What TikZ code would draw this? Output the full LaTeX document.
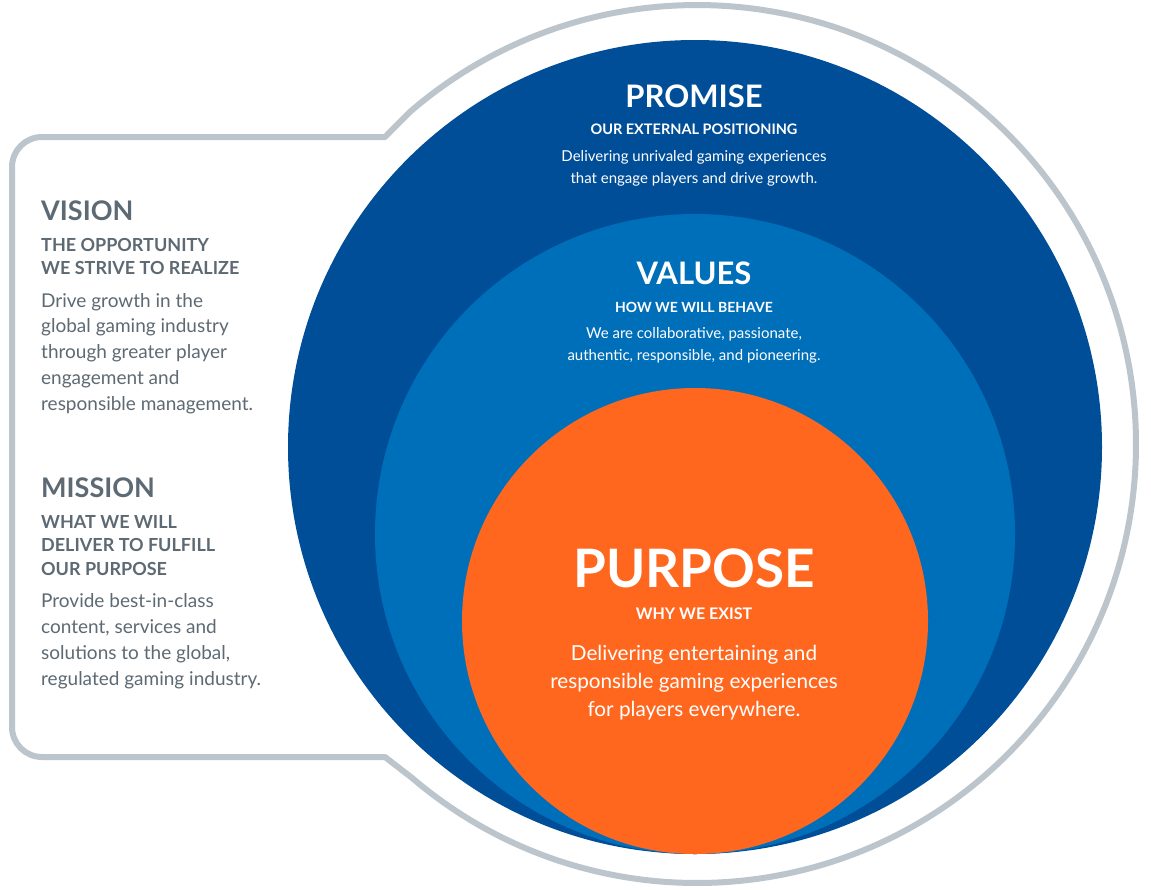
\documentclass[tikz,border=0pt]{standalone}
\usepackage{fontspec}
\setmainfont{Lato}
\usetikzlibrary{calc}
\definecolor{darkblue}{HTML}{004E98}
\definecolor{midblue}{HTML}{006FBA}
\definecolor{orangec}{HTML}{FF671F}
\definecolor{ringgray}{HTML}{BDC5CC}
\definecolor{textgray}{HTML}{5E6A73}
\tikzset{
  disc/.style={circle, inner sep=0pt, draw=none},
  ring/.style={draw=ringgray, line width=6pt, line join=round},
  lhead/.style={anchor=base west, inner sep=0pt, text=textgray, font=\bfseries\fontsize{27}{30}\selectfont},
  lsub/.style={anchor=base west, inner sep=0pt, text=textgray, font=\bfseries\fontsize{18}{20}\selectfont},
  lbody/.style={anchor=base west, inner sep=0pt, text=textgray, font=\fontsize{19}{22}\selectfont},
  chead/.style={anchor=base, inner sep=0pt, text=white, font=\bfseries\fontsize{31}{34}\selectfont},
  csub/.style={anchor=base, inner sep=0pt, text=white, font=\bfseries\fontsize{14.5}{16}\selectfont},
  cbody/.style={anchor=base, inner sep=0pt, text=white, font=\fontsize{15}{18}\selectfont},
}
\begin{document}
\begin{tikzpicture}[x=1pt, y=-1pt]
\useasboundingbox (0,0) rectangle (1151,889);
\fill[white] (0,0) rectangle (1151,889);
% gray outline
\coordinate (C) at (697,444);
\coordinate (P1) at ($(C)+(130.8:439pt)$);
\coordinate (P2) at ($(C)+(-130.5:439pt)$);
\draw[ring] (P1) -- (385,137) -- (42,137) arc[start angle=90, end angle=180, radius=30pt]
  -- (12,727) arc[start angle=180, end angle=270, radius=30pt]
  -- (385,757) -- (P2) arc[start angle=-130.5, end angle=130.8, radius=439pt] -- cycle;
% circles
\node[disc, fill=darkblue, minimum size=814pt] (promise) at (695,447) {};
\node[disc, fill=midblue, minimum size=640pt] (values) at (695,534) {};
\node[disc, fill=orangec, minimum size=466pt] (purpose) at (695,621) {};
% promise text
\node[chead] (promiseT) at (694,107) {PROMISE};
\node[csub] (promiseS) at (694,134) {OUR EXTERNAL POSITIONING};
\node[cbody] (promiseB1) at (694,161) {Delivering unrivaled gaming experiences};
\node[cbody] (promiseB2) at (694,183) {that engage players and drive growth.};
% values text
\node[chead] (valuesT) at (694,284) {VALUES};
\node[csub, font=\bfseries\fontsize{14}{16}\selectfont] (valuesS) at (694,312) {HOW WE WILL BEHAVE};
\node[cbody] (valuesB1) at (694,338) {We are collaborative, passionate,};
\node[cbody] (valuesB2) at (694,360) {authentic, responsible, and pioneering.};
% purpose text
\node[chead, font=\bfseries\fontsize{53}{56}\selectfont] (purposeT) at (694,587) {PURPOSE};
\node[csub, font=\bfseries\fontsize{16}{18}\selectfont] (purposeS) at (694,619) {WHY WE EXIST};
\node[cbody, font=\fontsize{20.7}{24}\selectfont] (purposeB1) at (694,660) {Delivering entertaining and};
\node[cbody, font=\fontsize{20.7}{24}\selectfont] (purposeB2) at (694,688) {responsible gaming experiences};
\node[cbody, font=\fontsize{20.7}{24}\selectfont] (purposeB3) at (694,716) {for players everywhere.};
% vision
\node[lhead] (visionT) at (41,220) {VISION};
\node[lsub] (visionS1) at (41,251) {THE OPPORTUNITY};
\node[lsub] (visionS2) at (41,274) {WE STRIVE TO REALIZE};
\foreach \t [count=\i] in {Drive growth in the, global gaming industry, through greater player, engagement and, responsible management.}
  \node[lbody] (visionB\i) at (41,{307+25.8*(\i-1)}) {\t};
% mission
\node[lhead] (missionT) at (41,497) {MISSION};
\node[lsub] (missionS1) at (41,528) {WHAT WE WILL};
\node[lsub] (missionS2) at (41,551) {DELIVER TO FULFILL};
\node[lsub] (missionS3) at (41,575) {OUR PURPOSE};
\foreach \t [count=\i] in {Provide best-in-class, {content, services and}, {solutions to the global,}, {regulated gaming industry.}}
  \node[lbody] (missionB\i) at (41,{607+26*(\i-1)}) {\t};
\end{tikzpicture}
\end{document}
